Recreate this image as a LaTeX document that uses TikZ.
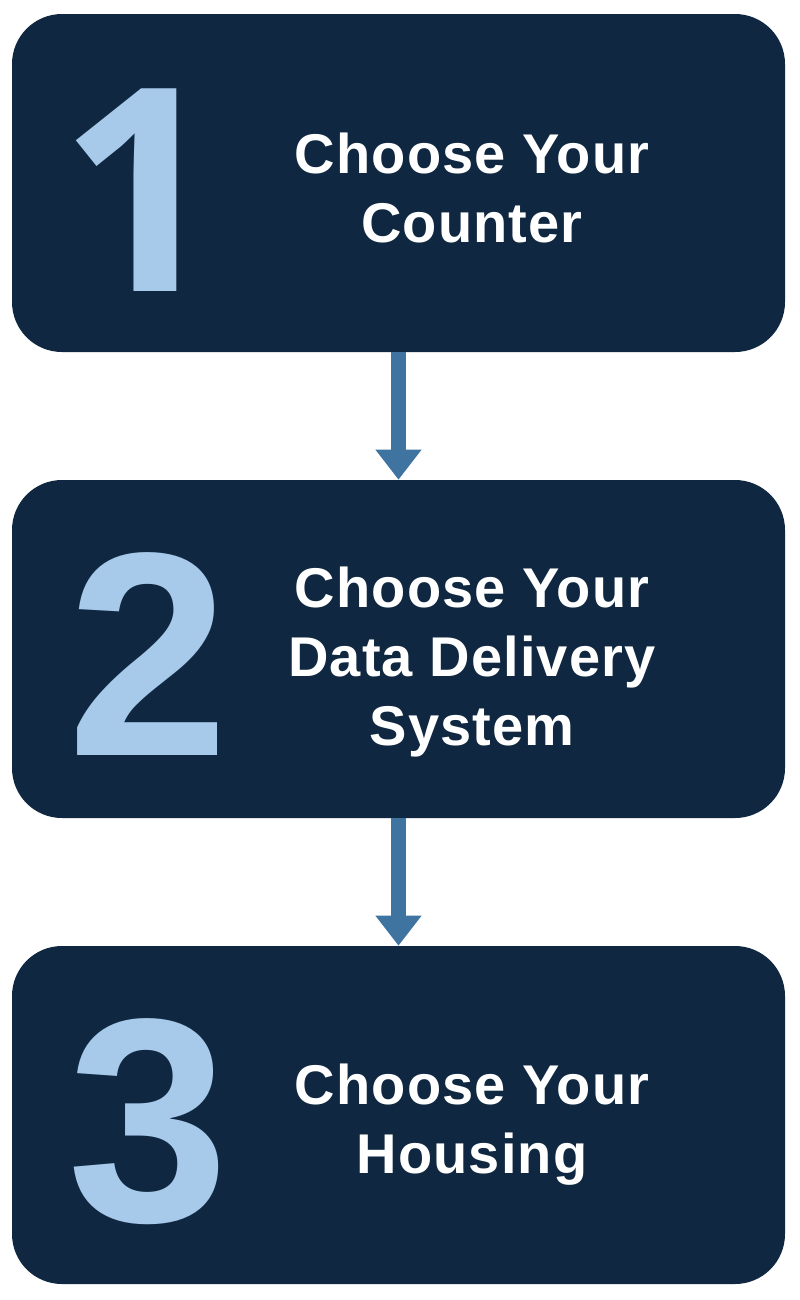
\documentclass[tikz,border=0pt]{standalone}
\usepackage{fontspec}
\setmainfont{Liberation Sans}
\newfontfamily\stepfont[LetterSpace=2]{Liberation Sans}
\newfontfamily\onefont{Open Sans}
\usetikzlibrary{arrows.meta}
\definecolor{navy}{HTML}{0F2740}
\definecolor{digitblue}{HTML}{A7C9EA}
\definecolor{arrowblue}{HTML}{3F73A0}
\tikzset{
  stepbox/.style={fill=navy, draw=none, rounded corners=37.5pt, minimum width=579.75pt, minimum height=253.5pt, inner sep=0pt},
  digit/.style={text=digitblue, font=\fontsize{218}{218}\selectfont\bfseries, inner sep=0pt},
  digitone/.style={text=digitblue, font=\onefont\fontsize{213}{213}\selectfont\bfseries, inner sep=0pt},
  label/.style={text=white, align=center, font=\stepfont\fontsize{42}{51.75}\selectfont\bfseries, inner sep=0pt},
  flow/.style={draw=arrowblue, line width=11.25pt, -{Triangle[length=22.5pt,width=33pt]}}
}
\begin{document}
\begin{tikzpicture}[x=0.75pt,y=-0.75pt]
\useasboundingbox (0,0) rectangle (800,1300);
\node[stepbox] (b1) at (398.5,183) {};
\node[stepbox] (b2) at (398.5,649) {};
\node[stepbox] (b3) at (398.5,1115) {};
\node[digitone] (d1) at (141,190.5) {1};
\node[digit] (d2) at (148,654) {2};
\node[digit] (d3) at (148,1121.5) {3};
\node[label] (t1) at (472,188) {Choose Your\\Counter};
\node[label] (t2) at (472,662) {Choose Your\\Data Delivery\\System};
\node[label] (t3) at (472,1125) {Choose Your\\Housing};
\draw[flow] (b1.south) -- (b2.north);
\draw[flow] (b2.south) -- (b3.north);
\end{tikzpicture}
\end{document}
